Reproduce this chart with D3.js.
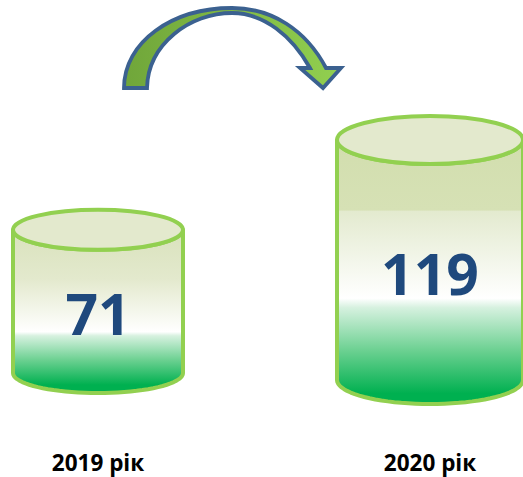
<!DOCTYPE html>
<html><head><meta charset="utf-8">
<script src="https://cdn.jsdelivr.net/npm/d3@7"></script>
<style>html,body{margin:0;padding:0;background:#fff;}svg{display:block;}</style>
</head><body>
<script>
// ---- data ----
const categories = ["2019 рік", "2020 рік"];
const values = [71, 119];

// ---- layout ----
const W = 523, H = 477;
const centers = d3.scalePoint().domain(categories).range([98, 430]);
const hScale = d3.scaleLinear().domain([0, 119]).range([0, 240]);
const baseY = [373, 380];
const rxs = [85, 93];
const rys = [20, 24];

const svg = d3.select("body").append("svg").attr("width", W).attr("height", H);
const defs = svg.append("defs");

categories.forEach((c, i) => {
  const g = defs.append("linearGradient").attr("id", "body" + i)
    .attr("x1", 0).attr("y1", 0).attr("x2", 0).attr("y2", 1);
  const stops = i === 1
    ? [[0, "#d2deae"], [0.265, "#d6e1b5"], [0.27, "#e3eacf"], [0.6, "#ffffff"], [0.635, "#d6f1df"], [0.8, "#6ad090"], [0.96, "#00b050"], [1, "#00b050"]]
    : [[0, "#d9e2bc"], [0.3, "#e3e9cd"], [0.625, "#ffffff"], [0.65, "#d6f1df"], [0.8, "#6ad090"], [0.95, "#00b050"], [1, "#00b050"]];
  stops.forEach(s => g.append("stop").attr("offset", s[0]).attr("stop-color", s[1]));
});

const ag = defs.append("linearGradient").attr("id", "arrowFill")
  .attr("x1", 0).attr("y1", 0).attr("x2", 1).attr("y2", 0);
ag.append("stop").attr("offset", 0).attr("stop-color", "#70a63a");
ag.append("stop").attr("offset", 0.45).attr("stop-color", "#7fb743");
ag.append("stop").attr("offset", 1).attr("stop-color", "#92d050");

// ---- cylinders ----
categories.forEach((c, i) => {
  const cx = centers(c), rx = rxs[i], ry = rys[i];
  const yb = baseY[i], yt = yb - hScale(values[i]);
  const grp = svg.append("g");
  const p = d3.path();
  p.moveTo(cx - rx, yt);
  p.lineTo(cx - rx, yb);
  const n = 40;
  for (let k = 0; k <= n; k++) {
    const a = Math.PI - Math.PI * k / n;
    p.lineTo(cx + rx * Math.cos(a), yb + ry * Math.sin(a));
  }
  p.lineTo(cx + rx, yt);
  for (let k = 0; k <= n; k++) {
    const a = Math.PI * k / n;
    p.lineTo(cx + rx * Math.cos(a), yt + ry * Math.sin(a));
  }
  p.closePath();
  grp.append("path").attr("d", p.toString())
    .attr("fill", `url(#body${i})`)
    .attr("stroke", "#92d050").attr("stroke-width", 4).attr("stroke-linejoin", "round");
  grp.append("ellipse").attr("cx", cx).attr("cy", yt).attr("rx", rx).attr("ry", ry)
    .attr("fill", "#e3e9cd").attr("stroke", "#92d050").attr("stroke-width", 4);
  grp.append("text").attr("x", cx).attr("y", i === 0 ? 335 : 295)
    .attr("text-anchor", "middle")
    .attr("font-family", "'Open Sans', sans-serif").attr("font-weight", "bold")
    .attr("font-size", 57).attr("fill", "#1f497d")
    .text(values[i]);
  svg.append("text").attr("x", cx).attr("y", 471)
    .attr("text-anchor", "middle")
    .attr("font-family", "'Open Sans', sans-serif").attr("font-weight", "bold")
    .attr("font-size", 22.5).attr("fill", "#000")
    .text(c);
});

// ---- curved arrow ----
svg.append("path")
  .attr("d", "M124,88 C124,42 172,8 232,8 C272,8 306,30 326,68 L341,68 L323,88 L300,68 L310,68 C292,36 264,13 232,13 C190,13 148,44 147,88 Z")
  .attr("fill", "url(#arrowFill)")
  .attr("stroke", "#3b6190").attr("stroke-width", 3.8).attr("stroke-linejoin", "miter");
</script>
</body></html>
